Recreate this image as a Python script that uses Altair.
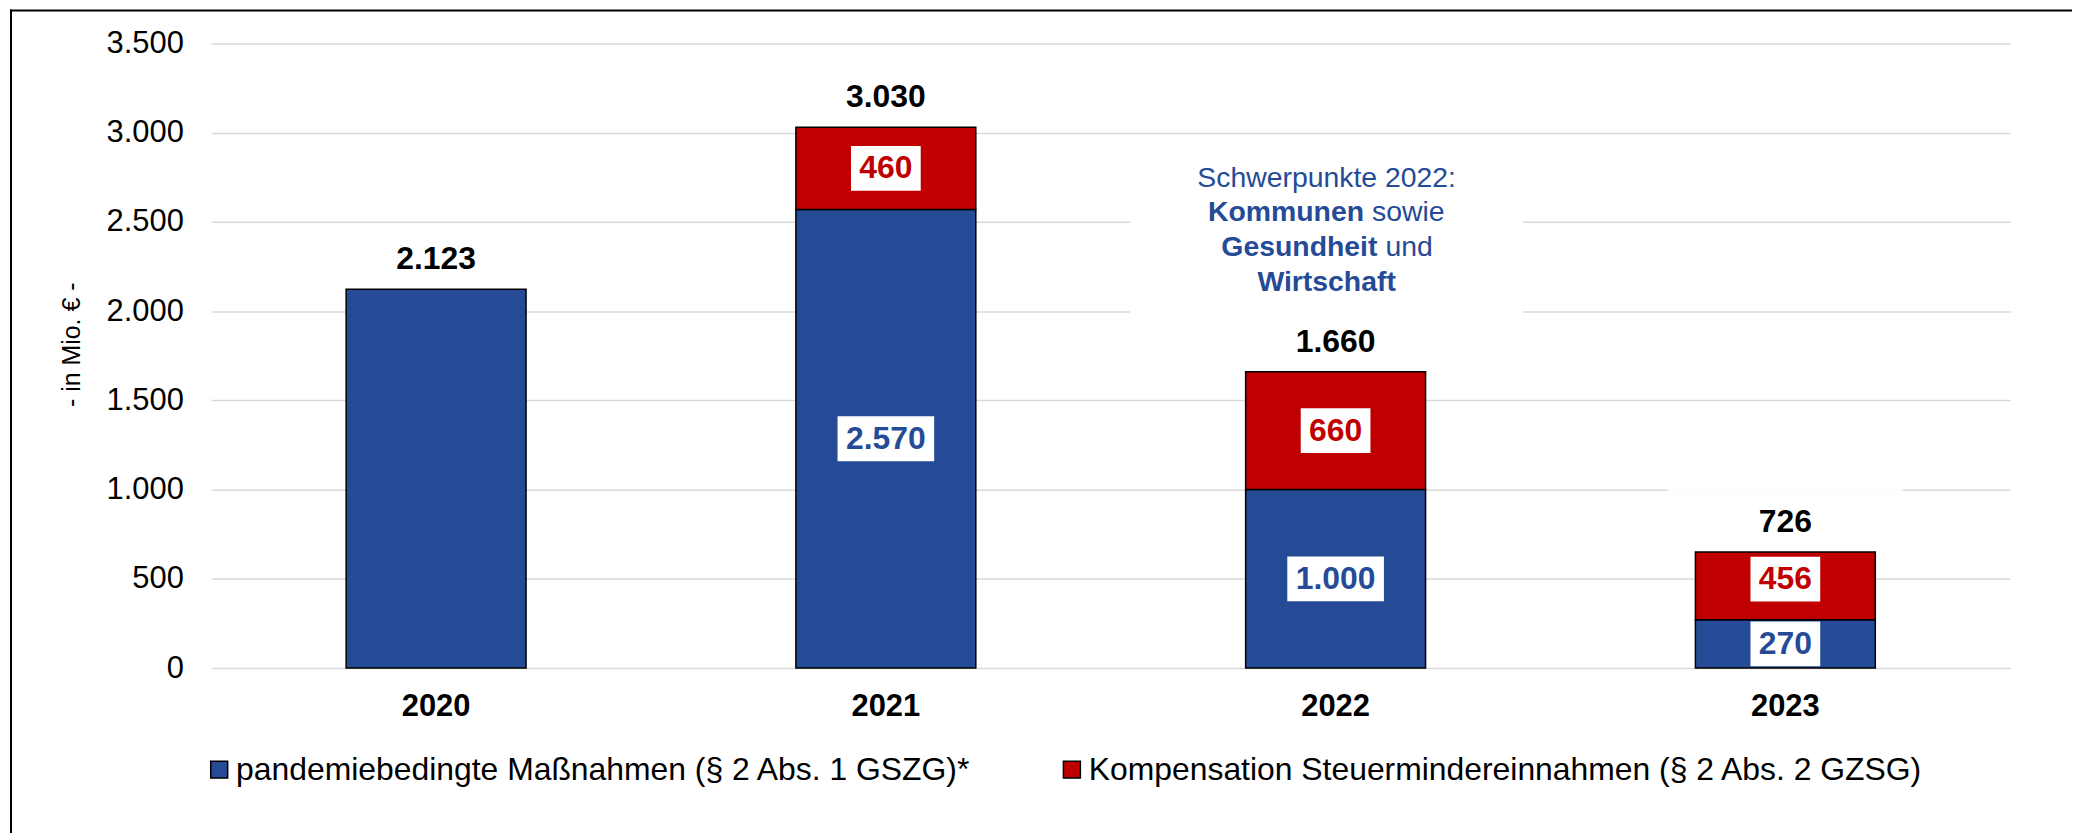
import altair as alt
import pandas as pd

# ---------------- data ----------------
years = ["2020", "2021", "2022", "2023"]
pandemie = [2123, 2570, 1000, 270]          # blue segment (drawn height)
kompensation = [0, 460, 660, 380]           # red segment (drawn height as in picture)
pandemie_labels = ["", "2.570", "1.000", "270"]
kompensation_labels = ["", "460", "660", "456"]
total_labels = ["2.123", "3.030", "1.660", "726"]
series_names = ["pandemiebedingte Maßnahmen (§ 2 Abs. 1 GSZG)*",
                "Kompensation Steuermindereinnahmen (§ 2 Abs. 2 GZSG)"]
series_colors = ["#254B96", "#C00000"]
y_ticks = [0, 500, 1000, 1500, 2000, 2500, 3000, 3500]
y_title = "- in Mio. € -"
note_year = "2022"
note_value = 2455
note_lines = [
    [("Schwerpunkte 2022:", "normal")],
    [("Kommunen", "bold"), ("sowie", "normal")],
    [("Gesundheit", "bold"), ("und", "normal")],
    [("Wirtschaft", "bold")],
]

FONT = "Liberation Sans"
BLUE, RED = series_colors

def to_num(s):
    return float(s.replace(".", "")) if s else 0.0

# ---------------- tables ----------------
bar_rows = []
for i, yr in enumerate(years):
    if pandemie[i] > 0:
        bar_rows.append({"year": yr, "series": series_names[0], "start": 0, "end": pandemie[i]})
    if kompensation[i] > 0:
        bar_rows.append({"year": yr, "series": series_names[1], "start": pandemie[i],
                         "end": pandemie[i] + kompensation[i]})
bars_df = pd.DataFrame(bar_rows)

lab_rows = []
for i, yr in enumerate(years):
    if pandemie_labels[i]:
        lab_rows.append({"year": yr, "kind": "p", "label": pandemie_labels[i],
                         "pos": pandemie[i] / 2, "n": len(pandemie_labels[i])})
    if kompensation_labels[i]:
        lab_rows.append({"year": yr, "kind": "k", "label": kompensation_labels[i],
                         "pos": pandemie[i] + to_num(kompensation_labels[i]) / 2,
                         "n": len(kompensation_labels[i])})
labels_df = pd.DataFrame(lab_rows)

tot_df = pd.DataFrame({"year": years, "label": total_labels,
                       "top": [p + k for p, k in zip(pandemie, kompensation)]})

one_df = pd.DataFrame({"a": [0]})

# ---------------- scales / axes ----------------
x_scale = alt.Scale(domain=years, paddingInner=0.6, paddingOuter=0.3)
y_scale = alt.Scale(domain=[0, 3500], nice=False, zero=True)

x_axis = alt.Axis(title=None, labelAngle=0, labelFontSize=31, labelFontWeight="bold",
                  labelColor="black", labelFont=FONT, ticks=False, domain=False,
                  labelPadding=24, grid=False)
y_axis = alt.Axis(values=y_ticks, title=y_title, grid=True, gridColor="#D9D9D9",
                  gridWidth=1.5, domain=False, ticks=False, tickSize=0,
                  labelFontSize=31, labelFont=FONT, labelColor="black", labelPadding=28,
                  labelExpr="replace(format(datum.value, ',d'), ',', '.')",
                  titleFontSize=25, titleFont=FONT, titleFontWeight="normal",
                  titleColor="black", titleX=-140, titleY=302, titleAlign="center",
                  titleBaseline="middle", titleAngle=270)

X = lambda: alt.X("year:N", scale=x_scale, axis=x_axis)

def rect_path(half_h):
    return f"M-1,-{half_h}L1,-{half_h}L1,{half_h}L-1,{half_h}Z"

# white boxes behind total labels
tot_box = alt.Chart(tot_df).mark_point(
    shape=rect_path(33 / 118), size=236 ** 2, filled=True, fill="white",
    opacity=1, strokeWidth=0, yOffset=-30
).encode(x=X(), y=alt.Y("top:Q", scale=y_scale, axis=y_axis))

# white box behind annotation
note_box = alt.Chart(one_df).mark_point(
    shape=rect_path(84 / 197), size=394 ** 2, filled=True, fill="white",
    opacity=1, strokeWidth=0, xOffset=-9, yOffset=5
).encode(x=alt.XDatum(note_year, type="nominal", scale=x_scale, axis=x_axis),
         y=alt.YDatum(note_value, type="quantitative", scale=y_scale, axis=y_axis))

bars = alt.Chart(bars_df).mark_bar(stroke="black", strokeWidth=1.5).encode(
    x=X(),
    y=alt.Y("start:Q", scale=y_scale, axis=y_axis),
    y2="end:Q",
    color=alt.Color("series:N",
                    scale=alt.Scale(domain=series_names, range=series_colors),
                    legend=alt.Legend(title=None, orient="none", legendX=-8, legendY=713,
                                      direction="horizontal", columns=2,
                                      symbolType="square", symbolSize=289,
                                      symbolStrokeColor="black", symbolStrokeWidth=1.5,
                                      symbolOpacity=1,
                                      labelFontSize=32, labelFont=FONT, labelColor="black",
                                      labelOffset=1, columnPadding=84, labelLimit=2000,
                                      padding=0)),
)

layers = [tot_box, note_box, bars]

# inner label boxes and texts
for n, w in [(3, 70), (5, 97)]:
    layers.append(
        alt.Chart(labels_df).transform_filter(f"datum.n == {n}").mark_point(
            shape=rect_path(22.5 / (w / 2)), size=w ** 2, filled=True, fill="white",
            opacity=1, strokeWidth=0
        ).encode(x=X(), y=alt.Y("pos:Q", scale=y_scale, axis=y_axis))
    )
for kind, col in [("p", BLUE), ("k", RED)]:
    layers.append(
        alt.Chart(labels_df).transform_filter(f"datum.kind == '{kind}'").mark_text(
            font=FONT, fontSize=32, fontWeight="bold", color=col, baseline="middle"
        ).encode(x=X(), y=alt.Y("pos:Q", scale=y_scale, axis=y_axis), text="label:N")
    )

# total labels
layers.append(
    alt.Chart(tot_df).mark_text(font=FONT, fontSize=32, fontWeight="bold", color="black",
                                baseline="middle", yOffset=-30)
    .encode(x=X(), y=alt.Y("top:Q", scale=y_scale, axis=y_axis), text="label:N")
)

# annotation text
split_offsets = [None, 28.5, 42, None]
for li, segs in enumerate(note_lines):
    dy = (li - 1.5) * 35
    if len(segs) == 1:
        placements = [(segs[0], "center", -9)]
    else:
        placements = [(segs[0], "right", split_offsets[li]),
                      (segs[1], "left", split_offsets[li] + 8)]
    for (txt, wt), al, xo in placements:
        layers.append(
            alt.Chart(one_df).mark_text(
                text=txt, font=FONT, fontSize=28.5, fontWeight=wt, color=BLUE,
                align=al, baseline="middle", xOffset=xo, yOffset=dy
            ).encode(x=alt.XDatum(note_year, type="nominal", scale=x_scale, axis=x_axis),
                     y=alt.YDatum(note_value, type="quantitative", scale=y_scale, axis=y_axis))
        )

# outer frame (top and left edges)
layers.append(alt.Chart(one_df).mark_rule(color="black", strokeWidth=2).encode(
    x=alt.value(-202), x2=alt.value(1870), y=alt.value(-33)))
layers.append(alt.Chart(one_df).mark_rule(color="black", strokeWidth=2).encode(
    x=alt.value(-201), y=alt.value(-34), y2=alt.value(795)))

chart = alt.layer(*layers).properties(
    width=1806, height=627,
    padding={"left": 204, "top": 34, "right": 62, "bottom": 164},
    autosize=alt.AutoSizeParams(type="none"),
    background="white",
).configure_view(stroke=None).configure_text(font=FONT)

chart.save("out.html", embed_options={"renderer": "svg", "actions": False})
